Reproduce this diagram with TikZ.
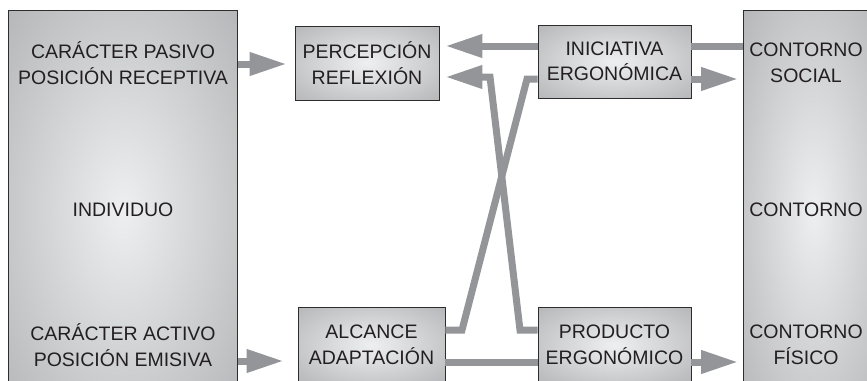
\documentclass[tikz,border=0pt]{standalone}
\usepackage{fontspec}
\setmainfont{Liberation Sans}
\usetikzlibrary{arrows.meta}
\definecolor{linegray}{RGB}{147,149,152}
\definecolor{boxin}{RGB}{238,239,240}
\definecolor{boxout}{RGB}{158,160,163}
\definecolor{edgec}{RGB}{45,45,45}
\definecolor{txt}{RGB}{35,31,32}
\pgfdeclareradialshading{boxshade}{\pgfpoint{0bp}{0bp}}{color(0bp)=(boxin); color(50bp)=(boxout)}
\begin{document}
\begin{tikzpicture}[x=1pt,y=-1pt,
  box/.style={draw=edgec, line width=0.9pt, shade, shading=boxshade, inner sep=0pt,
    align=center, font=\fontsize{19.5}{25.5}\selectfont, text=txt},
  lbl/.style={align=center, font=\fontsize{19.5}{25.5}\selectfont, text=txt, inner sep=0pt},
  conn/.style={draw=linegray, line width=7pt},
  arr/.style={conn, -{Triangle[length=37pt,width=22pt]}}]
\useasboundingbox (0,0) rectangle (867,380);
\clip (0,0) rectangle (867,380);
% big boxes
\node[box, minimum width=229pt, minimum height=400pt, anchor=north west] (L) at (8,10) {};
\node[box, minimum width=140pt, minimum height=400pt, anchor=north west] (R) at (743,10) {};
\node[lbl] (l1) at (123,63) {CARÁCTER PASIVO\\POSICIÓN RECEPTIVA};
\node[lbl] (l2) at (123,210) {INDIVIDUO};
\node[lbl] (l3) at (123,345) {CARÁCTER ACTIVO\\POSICIÓN EMISIVA};
\node[lbl] (r1) at (806,63) {CONTORNO\\SOCIAL};
\node[lbl] (r2) at (806,210) {CONTORNO};
\node[lbl] (r3) at (806,345) {CONTORNO\\FÍSICO};
% small boxes
\node[box, minimum width=144pt, minimum height=74pt] (P) at (367,63) {PERCEPCIÓN\\REFLEXIÓN};
\node[box, minimum width=153pt, minimum height=73pt] (I) at (614.5,61.5) {INICIATIVA\\ERGONÓMICA};
\node[box, minimum width=147pt, minimum height=76pt] (A) at (371.5,345) {ALCANCE\\ADAPTACIÓN};
\node[box, minimum width=153pt, minimum height=76pt] (Pr) at (614.5,345) {PRODUCTO\\ERGONÓMICO};
% connectors
\draw[arr, shorten >=8pt] (L.east |- 0,64) -- (P.west |- 0,64);
\draw[arr, shorten >=6pt] (I.west |- 0,46) -- (P.east |- 0,46);
\draw[conn] (R.west |- 0,46) -- (I.east |- 0,46);
\draw[arr, shorten >=5pt] (I.east |- 0,79) -- (R.west |- 0,79);
\draw[conn] (A.east |- 0,330) -- (462,330) -- (527,79) -- (I.west |- 0,79);
\draw[arr, shorten >=6pt] (Pr.west |- 0,330) -- (520,330) -- (490,77) -- (P.east |- 0,77);
\draw[arr, shorten >=14pt] (L.east |- 0,361) -- (A.west |- 0,361);
\draw[conn] (A.east |- 0,362) -- (Pr.west |- 0,362);
\draw[arr, shorten >=5pt] (Pr.east |- 0,362) -- (R.west |- 0,362);
\end{tikzpicture}
\end{document}
